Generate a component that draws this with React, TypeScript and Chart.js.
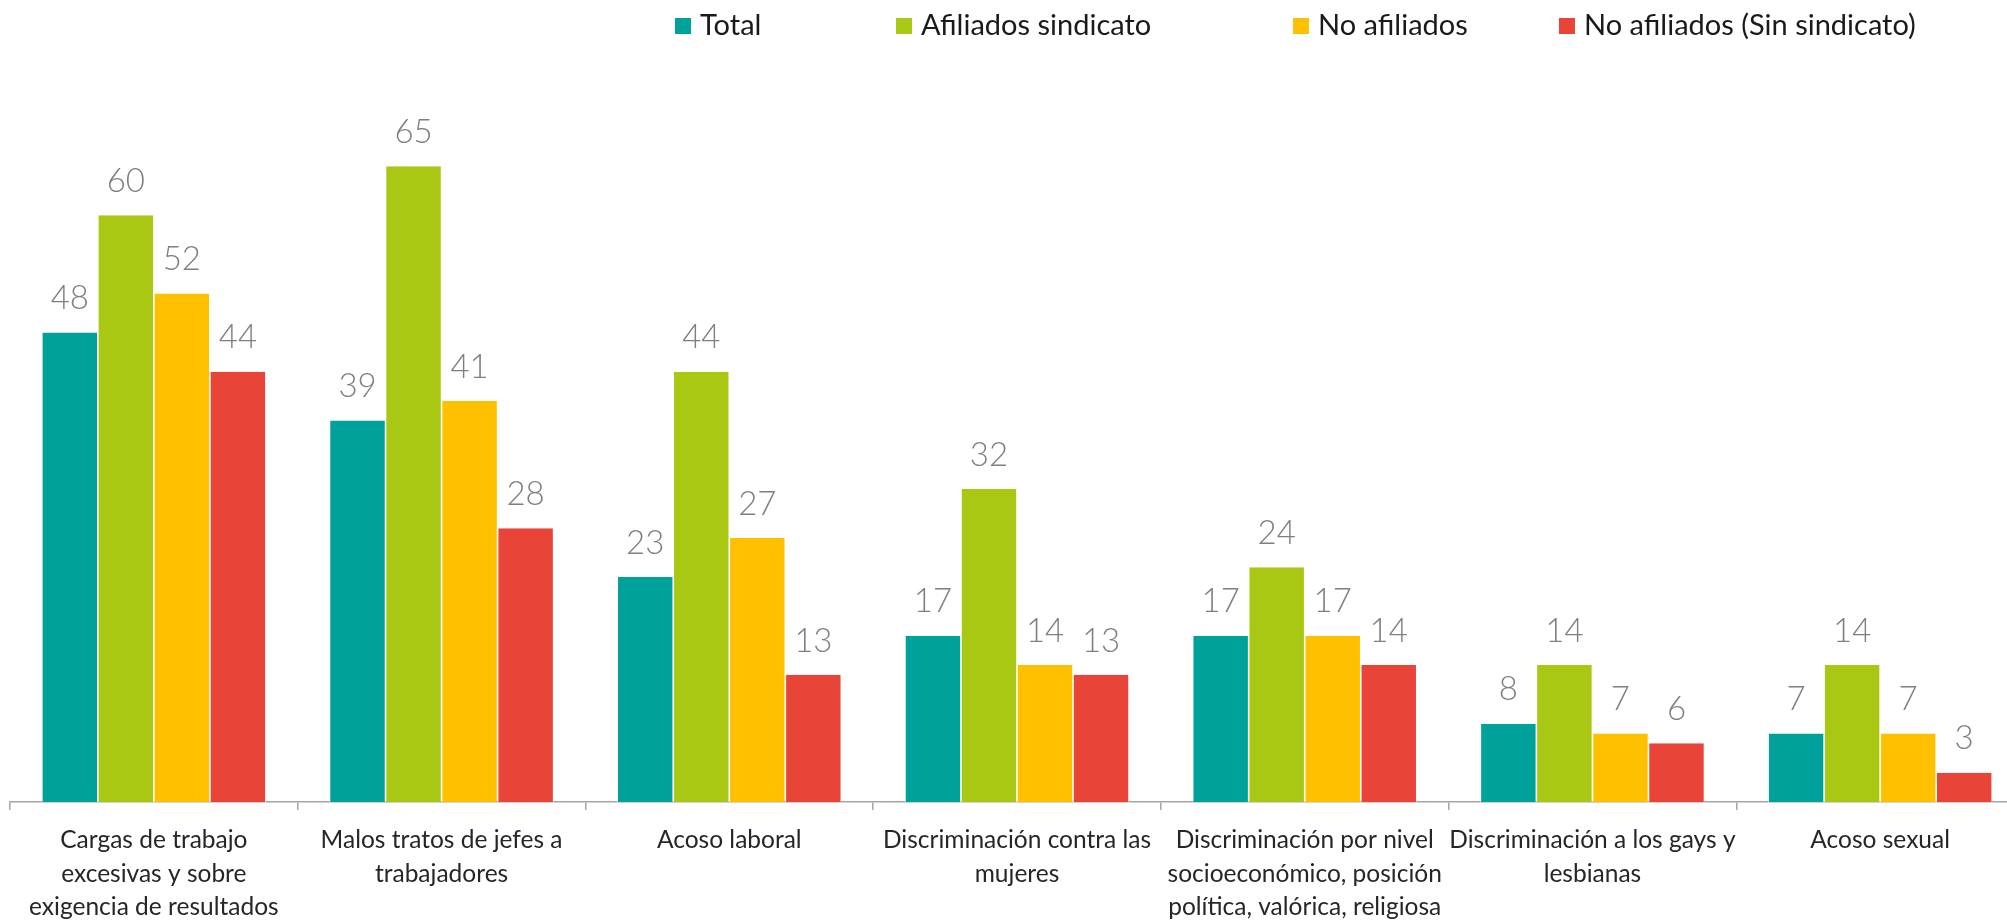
import React, { useEffect, useRef } from "react";
import { Chart, registerables } from "chart.js";

Chart.register(...registerables);

const categories: string[][] = [
  ["Cargas de trabajo", "excesivas y sobre", "exigencia de resultados"],
  ["Malos tratos de jefes a", "trabajadores"],
  ["Acoso laboral"],
  ["Discriminación contra las", "mujeres"],
  ["Discriminación por nivel", "socioeconómico, posición", "política, valórica, religiosa"],
  ["Discriminación a los gays y", "lesbianas"],
  ["Acoso sexual"],
];

const seriesNames = ["Total", "Afiliados sindicato", "No afiliados", "No afiliados (Sin sindicato)"];
const total = [48, 39, 23, 17, 17, 8, 7];
const afiliados = [60, 65, 44, 32, 24, 14, 14];
const noAfiliados = [52, 41, 27, 14, 17, 7, 7];
const sinSindicato = [44, 28, 13, 13, 14, 6, 3];
const seriesColors = ["#00A19A", "#A8C814", "#FFC000", "#E84538"];

const FONT = "Lato, 'Open Sans', sans-serif";
const LEGEND_LEFT = [675, 896, 1293, 1559];

const valueLabels = {
  id: "valueLabels",
  afterDatasetsDraw(chart: any) {
    const ctx = chart.ctx;
    ctx.save();
    ctx.font = `300 33px ${FONT}`;
    ctx.fillStyle = "#7F7F7F";
    ctx.textAlign = "center";
    ctx.textBaseline = "middle";
    chart.data.datasets.forEach((ds: any, i: number) => {
      const meta = chart.getDatasetMeta(i);
      meta.data.forEach((bar: any, j: number) => {
        ctx.fillText(String(ds.data[j]), bar.x, bar.y - 34);
      });
    });
    ctx.restore();
  },
};

export default function App() {
  const ref = useRef<HTMLCanvasElement>(null);
  useEffect(() => {
    if (!ref.current) return;
    const data = [total, afiliados, noAfiliados, sinSindicato];
    const chart = new Chart(ref.current, {
      type: "bar",
      data: {
        labels: categories,
        datasets: data.map((d, i) => ({
          label: seriesNames[i],
          data: d,
          backgroundColor: seriesColors[i],
          borderColor: "#FFFFFF",
          borderWidth: { left: 0.8, right: 0.8, top: 0, bottom: 0 },
          categoryPercentage: 0.779,
          barPercentage: 1,
        })),
      },
      options: {
        responsive: false,
        animation: false,
        devicePixelRatio: 1,
        layout: { padding: { left: 10, right: 2, top: 117.4, bottom: 0 } },
        plugins: { legend: { display: false }, tooltip: { enabled: false } },
        scales: {
          y: { display: false, min: 0, max: 70 },
          x: {
            offset: true,
            grid: {
              display: true,
              drawOnChartArea: false,
              drawTicks: true,
              tickLength: 8,
              color: "#A6A6A6",
              lineWidth: 1.5,
              offset: true,
            },
            border: { display: true, color: "#A6A6A6", width: 1.5 },
            ticks: {
              autoSkip: false,
              maxRotation: 0,
              minRotation: 0,
              padding: 14,
              color: "#262626",
              font: { family: FONT, size: 24.5, lineHeight: 1.35 },
            },
            afterFit: (scale: any) => {
              scale.height = 120;
            },
          },
        },
      },
      plugins: [valueLabels],
    });
    return () => chart.destroy();
  }, []);

  return (
    <div
      style={{
        position: "absolute",
        left: 0,
        top: 0,
        width: 2007,
        height: 922,
        overflow: "hidden",
        background: "#FFFFFF",
      }}
    >
      <canvas ref={ref} width={2026} height={922} style={{ position: "absolute", left: 0, top: 0 }} />
      {seriesNames.map((name, i) => (
        <div
          key={name}
          style={{
            position: "absolute",
            left: LEGEND_LEFT[i],
            top: 8,
            height: 32,
            lineHeight: "32px",
            display: "flex",
            alignItems: "center",
            fontFamily: FONT,
            fontSize: 29,
            color: "#1A1A1A",
            whiteSpace: "nowrap",
          }}
        >
          <span
            style={{
              display: "inline-block",
              width: 16,
              height: 16,
              background: seriesColors[i],
              marginRight: 9,
              marginTop: 4,
            }}
          />
          {name}
        </div>
      ))}
    </div>
  );
}
